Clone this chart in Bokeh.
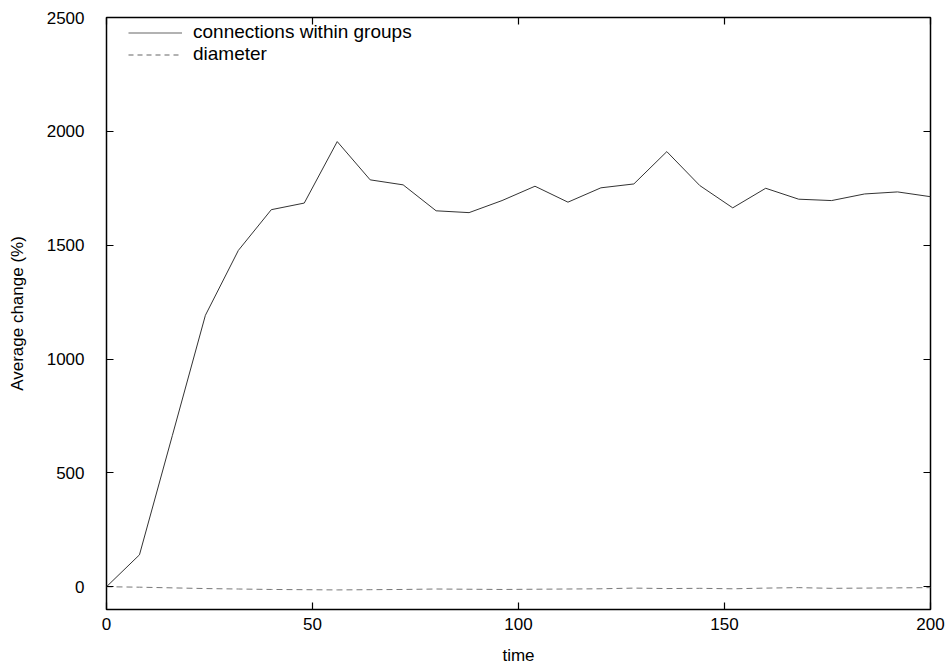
from bokeh.plotting import figure
from bokeh.models import Range1d, LinearAxis, Legend, LegendItem, FixedTicker
from bokeh.embed import file_html
from bokeh.resources import INLINE

time = [0, 8, 16, 24, 32, 40, 48, 56, 64, 72, 80, 88, 96, 104, 112, 120, 128,
        136, 144, 152, 160, 168, 176, 184, 192, 200]
connections = [0, 140, 665, 1192, 1477, 1656, 1685, 1955, 1787, 1765, 1651, 1643,
               1696, 1759, 1689, 1752, 1769, 1911, 1762, 1664, 1750, 1702, 1696,
               1725, 1734, 1713]
diameter = [0, -2, -5, -8, -10, -12, -13, -14, -13, -12, -10, -11, -12, -11, -10,
            -9, -6, -8, -7, -9, -6, -4, -7, -6, -5, -4]
x_ticks = [0, 50, 100, 150, 200]
y_ticks = [0, 500, 1000, 1500, 2000, 2500]
nan = float("nan")

FONT = "Liberation Sans"

p = figure(width=946, height=667, output_backend="svg", toolbar_location=None,
           x_range=Range1d(0, 200), y_range=Range1d(-100, 2500),
           min_border_left=106, min_border_right=16, min_border_top=17,
           min_border_bottom=58)
p.xgrid.visible = False
p.ygrid.visible = False
p.outline_line_color = "black"
p.outline_line_width = 1.5
p.background_fill_color = "white"
p.border_fill_color = "white"

r1 = p.line(time, connections, line_color="#333333", line_width=1)
r2 = p.line(time, diameter, line_color="#777777", line_width=1, line_dash="6 4")

# legend samples (renderers without visible data, in the lighter legend colour)
l1 = p.line([nan], [nan], line_color="#999999", line_width=1.3)
l2 = p.line([nan], [nan], line_color="#999999", line_width=1.3, line_dash="5 4")

def style_axis(ax, labels=True):
    ax.axis_line_color = None
    ax.major_tick_in = 7
    ax.major_tick_out = 0
    ax.minor_tick_in = 0
    ax.minor_tick_out = 0
    ax.major_tick_line_color = "black"
    ax.major_tick_line_width = 1.2
    ax.major_label_text_font = FONT
    ax.major_label_text_font_size = "17px"
    ax.major_label_text_color = "black"
    ax.axis_label_text_font = FONT
    ax.axis_label_text_font_size = "17px"
    ax.axis_label_text_font_style = "normal"
    ax.axis_label_text_color = "black"
    if not labels:
        ax.major_label_text_font_size = "0px"
        ax.major_label_text_alpha = 0

xa = p.xaxis[0]
xa.ticker = FixedTicker(ticks=x_ticks)
xa.axis_label = "time"
style_axis(xa)
xa.major_label_standoff = 8
xa.axis_label_standoff = 13

ya = p.yaxis[0]
ya.ticker = FixedTicker(ticks=y_ticks)
ya.axis_label = "Average change (%)"
style_axis(ya)
ya.major_label_standoff = 22
ya.axis_label_standoff = 17

top = LinearAxis(ticker=FixedTicker(ticks=x_ticks))
style_axis(top, labels=False)
p.add_layout(top, "above")
right = LinearAxis(ticker=FixedTicker(ticks=y_ticks))
style_axis(right, labels=False)
p.add_layout(right, "right")

legend = Legend(items=[LegendItem(label="connections within groups", renderers=[l1]),
                       LegendItem(label="diameter", renderers=[l2])],
                location=(22, 544), margin=0, padding=0, spacing=-3,
                glyph_width=54, glyph_height=19, label_height=19,
                label_standoff=11, label_text_font=FONT,
                label_text_font_size="19px", label_text_color="black",
                border_line_color=None, background_fill_alpha=0)
p.add_layout(legend)

open("out.html", "w").write(file_html(p, INLINE))
